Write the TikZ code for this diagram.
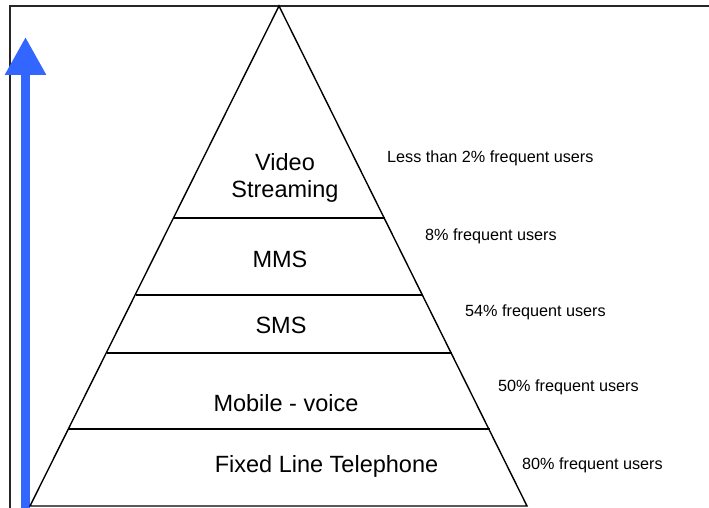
\documentclass[tikz,border=0pt]{standalone}
\usepackage{fontspec}
\setmainfont{Liberation Sans}
\usepackage{tikz}
\usetikzlibrary{arrows.meta}
\definecolor{arrowblue}{RGB}{51,102,255}

\begin{document}
\begin{tikzpicture}[x=1pt,y=-1pt,
    tier/.style={font=\fontsize{23.5}{27}\selectfont, align=center, inner sep=0pt},
    note/.style={font=\fontsize{16.2}{19}\selectfont, anchor=west, inner sep=0pt}]
    \useasboundingbox (0,0) rectangle (709,508);
    % frame
    \draw[line width=1.6pt, black!85] (10,508) -- (10,6) -- (709,6);
    % growth arrow
    \draw[arrowblue, line width=9pt, -{Triangle[length=38pt,width=39pt]}] (25.5,508) -- (25.5,37);
    % pyramid
    \coordinate (top) at (279,6);
    \coordinate (bl) at (30,506);
    \coordinate (br) at (527,506);
    \draw[line width=1.4pt] (bl) -- (top) -- (br) -- cycle;
    \draw[line width=1.4pt] (173.5,218) -- (385,218);
    \draw[line width=1.4pt] (135.5,295) -- (423,295);
    \draw[line width=1.4pt] (106.5,353) -- (451.5,353);
    \draw[line width=1.4pt] (68.5,429) -- (489.5,429);
    % tiers
    \node[tier] (video) at (285,178) {Video\\Streaming};
    \node[tier] (mms) at (280,259) {MMS};
    \node[tier] (sms) at (281,325) {SMS};
    \node[tier] (voice) at (286,403) {Mobile - voice};
    \node[tier] (fixed) at (326.5,466) {Fixed Line Telephone};
    % usage
    \node[note] (uvideo) at (387,158) {Less than 2\% frequent users};
    \node[note] (umms) at (425,236) {8\% frequent users};
    \node[note] (usms) at (465,312) {54\% frequent users};
    \node[note] (uvoice) at (498,387) {50\% frequent users};
    \node[note] (ufixed) at (522,465) {80\% frequent users};
\end{tikzpicture}
\end{document}
